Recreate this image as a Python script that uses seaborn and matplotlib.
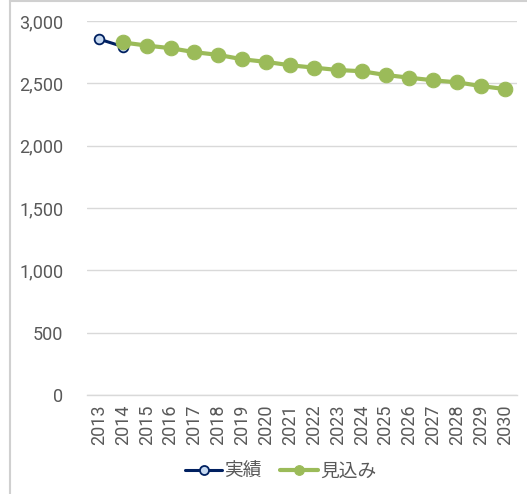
import matplotlib
matplotlib.use("Agg")
import matplotlib.pyplot as plt
from matplotlib.lines import Line2D
from matplotlib.ticker import FuncFormatter
import seaborn as sns
import pandas as pd

# Actual results and projection
actual_years = [2013, 2014]
actual_values = [2855, 2795]

proj_years = list(range(2014, 2031))
proj_values = [2828, 2803, 2782, 2750, 2728, 2693, 2672, 2645, 2626,
               2607, 2597, 2567, 2545, 2524, 2508, 2478, 2454]

labels = ["実績", "見込み"]
tick_years = list(range(2013, 2031))

sns.set_theme(style="white")
plt.rcParams['font.family'] = ['Roboto', 'Noto Sans CJK JP', 'DejaVu Sans']

fig = plt.figure(figsize=(5.27, 4.94), dpi=100)
ax = fig.add_axes([0.165, 0.2004, 0.816, 0.7571])

navy = "#002060"
green = "#9bbb59"
text_gray = "#595959"
grid_gray = "#d9d9d9"

df_a = pd.DataFrame({"year": actual_years, "value": actual_values})
df_p = pd.DataFrame({"year": proj_years, "value": proj_values})

sns.lineplot(data=df_a, x="year", y="value", ax=ax, color=navy, lw=2.2,
             marker="o", markersize=7, markerfacecolor="#c6d9f1",
             markeredgecolor=navy, markeredgewidth=1.3, label=labels[0], zorder=3)
sns.lineplot(data=df_p, x="year", y="value", ax=ax, color=green, lw=3,
             marker="o", markersize=10.5, markerfacecolor=green,
             markeredgecolor=green, label=labels[1], zorder=4)

ax.set_xlim(2012.5, 2030.5)
ax.set_ylim(0, 3000)
ax.set_yticks(range(0, 3001, 500))
ax.yaxis.set_major_formatter(FuncFormatter(lambda v, p: f"{int(v):,}"))
ax.set_xticks(tick_years)
ax.set_xticklabels([str(y) for y in tick_years], rotation=90)
ax.set_xlabel("")
ax.set_ylabel("")

ax.grid(axis="y", color=grid_gray, lw=1)
ax.set_axisbelow(True)
for side in ["left", "right", "top"]:
    ax.spines[side].set_visible(False)
ax.spines["bottom"].set_color(grid_gray)
ax.spines["bottom"].set_linewidth(1)

ax.tick_params(axis="both", length=0, colors=text_gray, labelsize=13)
ax.tick_params(axis="y", pad=17)
ax.tick_params(axis="x", pad=7)

leg = ax.legend(loc="upper center", bbox_to_anchor=(0.45, -0.135), ncol=2,
                frameon=False, fontsize=13.5, handlelength=2.0,
                columnspacing=1.0, handletextpad=0.1)
for t in leg.get_texts():
    t.set_color(text_gray)
handles = leg.legend_handles
handles[0].set_markersize(6.5)
handles[1].set_markersize(7)

# outer frame edges
fig.add_artist(Line2D([10 / 527, 10 / 527], [0, 1], color="#d0d0d0", lw=1.5,
                      transform=fig.transFigure))
fig.add_artist(Line2D([10 / 527, 1], [1 - 1.5 / 494, 1 - 1.5 / 494],
                      color="#d0d0d0", lw=1.5, transform=fig.transFigure))

fig.savefig("out.png", dpi=100)
